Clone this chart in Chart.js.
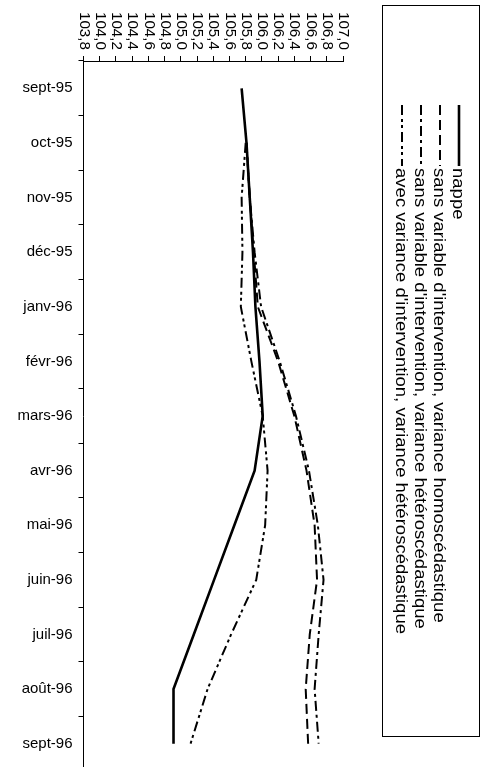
<!DOCTYPE html>
<html>
<head>
<meta charset="utf-8">
<script src="https://cdn.jsdelivr.net/npm/chart.js@4.4.1/dist/chart.umd.min.js"></script>
<style>
  html, body { margin: 0; padding: 0; background: #fff; overflow: hidden; }
  #wrap { position: relative; width: 484px; height: 786px; }
</style>
</head>
<body>
<div id="wrap"><canvas id="chartNappe"></canvas></div>
<script>
(function () {
  'use strict';

  // ─── Données ──────────────────────────────────────
  var mois = ['sept-95', 'oct-95', 'nov-95', 'déc-95', 'janv-96', 'févr-96', 'mars-96',
              'avr-96', 'mai-96', 'juin-96', 'juil-96', 'août-96', 'sept-96'];

  var nappe         = [105.75, 105.81, 105.85, 105.89, 105.92, 105.97, 106.01, 105.91, 105.66, 105.41, 105.16, 104.91, 104.91];
  var sansVarHomo   = [null, 105.81, 105.85, 105.90, 105.95, 106.20, 106.40, 106.55, 106.65, 106.68, 106.59, 106.54, 106.57];
  var sansVarHetero = [null, 105.81, 105.85, 105.91, 105.99, 106.22, 106.42, 106.58, 106.69, 106.76, 106.70, 106.65, 106.70];
  var avecVarHetero = [null, 105.80, 105.75, 105.76, 105.74, 105.87, 106.01, 106.07, 106.04, 105.93, 105.62, 105.33, 105.12];

  var axeMin = 103.8;
  var axeMax = 107.0;
  var axePas = 0.2;

  var legendes = [
    'nappe',
    "sans variable d'intervention, variance homoscédastique",
    "sans variable d'intervention, variance hétéroscédastique",
    "avec variance d'intervention, variance hétéroscédastique"
  ];

  var tirets = [[], [10, 5], [10, 4, 3, 4], [10, 4, 3, 3, 3, 4]];
  var epaisseurs = [2.6, 2, 2, 2];

  function fmt(v) {
    return Number(v).toFixed(1).replace('.', ',');
  }

  // ─── Étiquettes de l'axe des valeurs (tournées) ──────
  var etiquettesAxe = {
    id: 'etiquettesAxe',
    afterDraw: function (chart) {
      var ctx = chart.ctx;
      var sx = chart.scales.x;
      ctx.save();
      ctx.fillStyle = '#000';
      ctx.font = '14px "Liberation Sans", Arial, sans-serif';
      ctx.textAlign = 'left';
      ctx.textBaseline = 'middle';
      for (var i = 0; i < sx.ticks.length; i++) {
        var v = sx.ticks[i].value;
        var px = sx.getPixelForValue(v);
        ctx.save();
        ctx.translate(px, 12);
        ctx.rotate(Math.PI / 2);
        ctx.scale(1.08, 1);
        ctx.fillText(fmt(v), 0, 0);
        ctx.restore();
      }
      ctx.restore();
    }
  };

  // ─── Légende (tournée) ──────────────────────────
  var legendeTournee = {
    id: 'legendeTournee',
    afterDraw: function (chart) {
      var ctx = chart.ctx;
      ctx.save();
      ctx.strokeStyle = '#000';
      ctx.lineWidth = 1;
      ctx.strokeRect(382.5, 5.5, 97, 731);

      var xs = [459, 440, 421, 402];
      for (var i = 0; i < legendes.length; i++) {
        ctx.save();
        ctx.translate(xs[i], 105);
        ctx.rotate(Math.PI / 2);
        ctx.beginPath();
        ctx.setLineDash(tirets[i]);
        ctx.lineWidth = epaisseurs[i];
        ctx.moveTo(0, 0);
        ctx.lineTo(61, 0);
        ctx.stroke();
        ctx.setLineDash([]);
        ctx.translate(63, 0);
        ctx.scale(1.09, 1);
        ctx.fillStyle = '#000';
        ctx.font = '17px "Liberation Sans", Arial, sans-serif';
        ctx.textAlign = 'left';
        ctx.textBaseline = 'middle';
        ctx.fillText(legendes[i], 0, 1);
        ctx.restore();
      }
      ctx.restore();
    }
  };

  function serie(label, data, i) {
    return {
      label: label,
      data: data,
      borderColor: '#000',
      backgroundColor: '#000',
      borderWidth: epaisseurs[i],
      borderDash: tirets[i],
      pointRadius: 0,
      tension: 0,
      fill: false
    };
  }

  var ctx = document.getElementById('chartNappe');
  window.chartNappe = new Chart(ctx, {
    type: 'line',
    data: {
      labels: mois,
      datasets: [
        serie(legendes[0], nappe, 0),
        serie(legendes[1], sansVarHomo, 1),
        serie(legendes[2], sansVarHetero, 2),
        serie(legendes[3], avecVarHetero, 3)
      ]
    },
    options: {
      indexAxis: 'y',
      responsive: true,
      maintainAspectRatio: false,
      animation: false,
      layout: { padding: { left: 0, top: 0, right: 141, bottom: 0 } },
      plugins: {
        legend: { display: false },
        tooltip: { enabled: false }
      },
      scales: {
        x: {
          type: 'linear',
          position: 'top',
          min: axeMin,
          max: axeMax,
          ticks: { stepSize: axePas, display: false },
          grid: { drawOnChartArea: false, tickLength: 5, color: '#000' },
          border: { color: '#000', width: 1 },
          afterFit: function (scale) { scale.height = 61; }
        },
        y: {
          type: 'category',
          offset: true,
          ticks: {
            color: '#000',
            padding: 6,
            font: { family: '"Liberation Sans", Arial, sans-serif', size: 15 }
          },
          grid: { offset: true, drawOnChartArea: false, tickLength: 5, color: '#000' },
          border: { color: '#000', width: 1 },
          afterFit: function (scale) { scale.width = 83.5; }
        }
      }
    },
    plugins: [etiquettesAxe, legendeTournee]
  });
})();
</script>
</body>
</html>
